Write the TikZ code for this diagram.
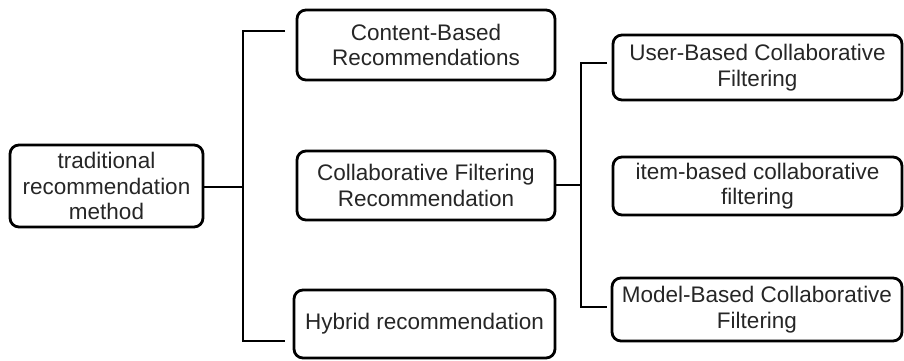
\documentclass[tikz,border=0pt]{standalone}
\usepackage{fontspec}
\setmainfont{Liberation Sans}
\begin{document}
\begin{tikzpicture}[x=1pt,y=-1pt,
  box/.style={draw=black, line width=2.8pt, rounded corners=9pt, inner sep=0pt,
    align=center, font=\fontsize{22.5}{25.5}\selectfont, text=black!85},
  link/.style={draw=black, line width=2.8pt}]
\useasboundingbox (0,0) rectangle (904,361);

% root
\node[box, minimum width=193pt, minimum height=82pt] (root) at (106.5,186)
  {traditional\\recommendation\\method};

% second level
\node[box, minimum width=258pt, minimum height=70pt] (content) at (426,45)
  {Content-Based\\Recommendations};
\node[box, minimum width=258pt, minimum height=69pt] (collab) at (426,185.5)
  {Collaborative Filtering\\Recommendation};
\node[box, minimum width=261pt, minimum height=68pt] (hybrid) at (424.5,324)
  {Hybrid recommendation};

% third level
\node[box, minimum width=289pt, minimum height=65pt] (user) at (757.5,67.5)
  {User-Based Collaborative\\Filtering};
\node[box, minimum width=289pt, minimum height=58pt] (item) at (757.5,186)
  {item-based collaborative\\filtering};
\node[box, minimum width=290pt, minimum height=63pt] (model) at (757,309.5)
  {Model-Based Collaborative\\Filtering};

% bracket from the root
\coordinate (rj) at (243,187);
\coordinate (rt) at (243,31);
\coordinate (rb) at (243,341);
\coordinate (rte) at (285,31);
\coordinate (rbe) at (285,341);
\draw[link] (root.east |- rj) -- (rj);
\draw[link] (rte) -- (rt) -- (rb) -- (rbe);

% bracket from collaborative filtering
\coordinate (cj) at (581,185);
\coordinate (ct) at (581,63);
\coordinate (cb) at (581,307);
\coordinate (cte) at (607,63);
\coordinate (cbe) at (607,307);
\draw[link] (collab.east |- cj) -- (cj);
\draw[link] (cte) -- (ct) -- (cb) -- (cbe);
\end{tikzpicture}
\end{document}
